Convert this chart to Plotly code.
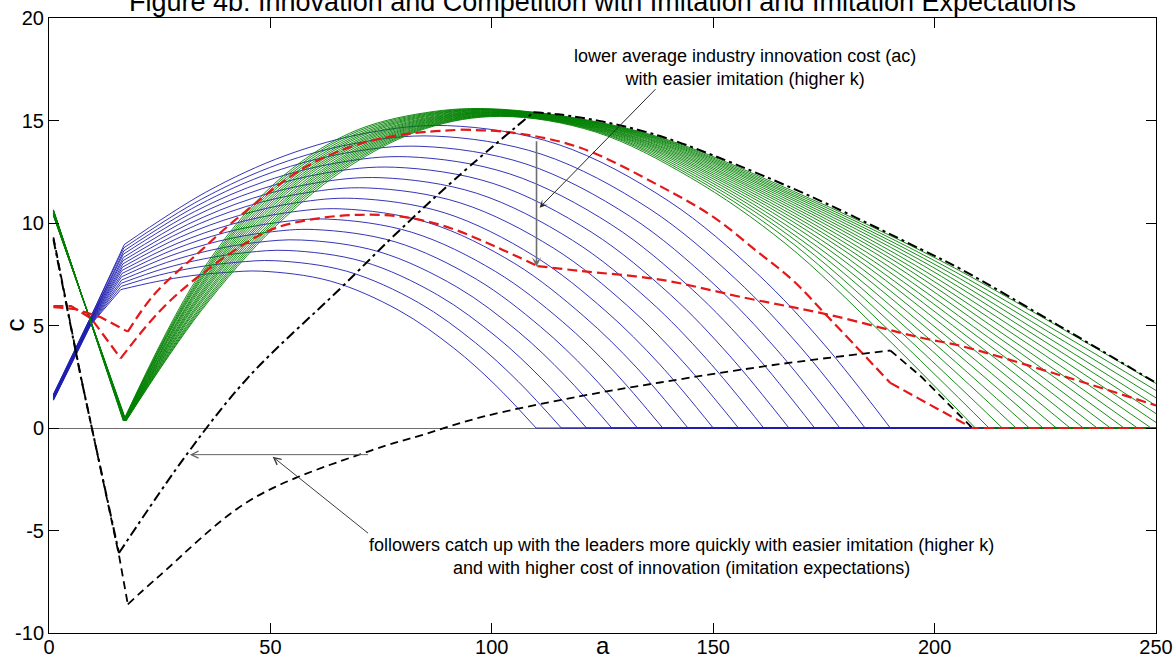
import plotly.graph_objects as go

# ---------------- data ----------------
X_TICKS = [0, 50, 100, 150, 200, 250]
X_TICK_TEXT = ["0", "50", "100", "150", "200", "250"]
Y_TICKS = [-10, -5, 0, 5, 10, 15, 20]
Y_TICK_TEXT = ["-10", "-5", "0", "5", "10", "15", "20"]

# blue family (15 curves): start, crossing, kink, rise, peak, fall, zero, tail
blue_x = [
    [1, 9.5, 16.2, 24.2, 32.1, 40.0, 48, 63.5, 79, 91.4, 100.7, 110, 250],
    [1, 9.5, 16.3, 24.9, 33.6, 42.3, 51, 67.2, 83.4, 96.3, 106.0, 115.7, 250],
    [1, 9.5, 16.3, 25.7, 35.2, 44.6, 54, 70.9, 87.7, 101.2, 111.3, 121.4, 250],
    [1, 9.5, 16.4, 26.5, 36.7, 46.8, 57, 74.5, 92.1, 106.1, 116.6, 127.1, 250],
    [1, 9.5, 16.4, 27.3, 38.2, 49.1, 60, 78.2, 96.5, 111.0, 122.0, 132.9, 250],
    [1, 9.5, 16.5, 28.1, 39.7, 51.4, 63, 81.9, 100.8, 115.9, 127.3, 138.6, 250],
    [1, 9.5, 16.5, 28.9, 41.3, 53.6, 66, 85.6, 105.2, 120.8, 132.6, 144.3, 250],
    [1, 9.5, 16.6, 29.7, 42.8, 55.9, 69, 89.3, 109.5, 125.7, 137.9, 150, 250],
    [1, 9.5, 16.7, 30.5, 44.3, 58.2, 72, 92.9, 113.9, 130.6, 143.1, 155.7, 250],
    [1, 9.5, 16.7, 31.3, 45.9, 60.4, 75, 96.6, 118.2, 135.5, 148.4, 161.4, 250],
    [1, 9.5, 16.8, 32.1, 47.4, 62.7, 78, 100.3, 122.6, 140.4, 153.7, 167.1, 250],
    [1, 9.5, 16.8, 32.9, 48.9, 65.0, 81, 104.0, 127.0, 145.3, 159.1, 172.9, 250],
    [1, 9.5, 16.9, 33.7, 50.4, 67.2, 84, 107.7, 131.3, 150.2, 164.4, 178.6, 250],
    [1, 9.5, 16.9, 34.5, 52.0, 69.5, 87, 111.3, 135.7, 155.1, 169.7, 184.3, 250],
    [1, 9.5, 17.0, 35.3, 53.5, 71.8, 90, 115, 140, 160, 175, 190, 250],
]
blue_y = [
    [1.35, 5.05, 6.75, 7.14, 7.43, 7.59, 7.65, 7.17, 5.74, 3.90, 2.12, 0, 0],
    [1.37, 5.08, 6.91, 7.46, 7.85, 8.08, 8.16, 7.65, 6.12, 4.16, 2.26, 0, 0],
    [1.39, 5.11, 7.06, 7.76, 8.26, 8.56, 8.66, 8.12, 6.50, 4.42, 2.40, 0, 0],
    [1.41, 5.14, 7.22, 8.07, 8.68, 9.05, 9.17, 8.60, 6.88, 4.68, 2.54, 0, 0],
    [1.44, 5.16, 7.38, 8.39, 9.11, 9.54, 9.68, 9.08, 7.26, 4.94, 2.69, 0, 0],
    [1.46, 5.19, 7.54, 8.70, 9.53, 10.02, 10.19, 9.55, 7.64, 5.20, 2.83, 0, 0],
    [1.48, 5.22, 7.69, 9.00, 9.94, 10.50, 10.69, 10.02, 8.02, 5.45, 2.97, 0, 0],
    [1.50, 5.25, 7.85, 9.32, 10.36, 10.99, 11.20, 10.50, 8.40, 5.71, 3.11, 0, 0],
    [1.52, 5.28, 8.01, 9.63, 10.79, 11.48, 11.71, 10.98, 8.78, 5.97, 3.25, 0, 0],
    [1.54, 5.31, 8.16, 9.93, 11.20, 11.96, 12.21, 11.45, 9.16, 6.23, 3.39, 0, 0],
    [1.56, 5.34, 8.32, 10.25, 11.62, 12.45, 12.72, 11.93, 9.54, 6.49, 3.53, 0, 0],
    [1.59, 5.36, 8.48, 10.56, 12.04, 12.93, 13.23, 12.40, 9.92, 6.75, 3.67, 0, 0],
    [1.61, 5.39, 8.64, 10.87, 12.47, 13.42, 13.74, 12.88, 10.31, 7.01, 3.81, 0, 0],
    [1.63, 5.42, 8.79, 11.17, 12.88, 13.90, 14.24, 13.35, 10.68, 7.26, 3.95, 0, 0],
    [1.65, 5.45, 8.95, 11.49, 13.30, 14.39, 14.75, 13.83, 11.06, 7.52, 4.09, 0, 0],
]

# green family (20 curves): start, minimum, rise, peak, fall, zero (or value at a=250), tail
green_x = [
    [1, 17.4, 34.3, 51.2, 68.2, 85.1, 102, 123.4, 144.9, 166.3, 187.8, 209.2, 250],
    [1, 17.4, 34.3, 51.2, 68.1, 85.1, 102, 124.1, 146.1, 168.2, 190.2, 212.3, 250],
    [1, 17.3, 34.3, 51.2, 68.1, 85.1, 102, 124.7, 147.3, 170.0, 192.6, 215.3, 250],
    [1, 17.3, 34.3, 51.2, 68.1, 85.1, 102, 125.3, 148.6, 171.8, 195.1, 218.4, 250],
    [1, 17.3, 34.2, 51.2, 68.1, 85.1, 102, 125.9, 149.8, 173.6, 197.5, 221.4, 250],
    [1, 17.2, 34.2, 51.1, 68.1, 85.0, 102, 126.5, 151.0, 175.5, 200.0, 224.5, 250],
    [1, 17.2, 34.2, 51.1, 68.1, 85.0, 102, 127.1, 152.2, 177.3, 202.4, 227.5, 250],
    [1, 17.2, 34.1, 51.1, 68.1, 85.0, 102, 127.7, 153.4, 179.2, 204.9, 230.6, 250],
    [1, 17.2, 34.1, 51.1, 68.1, 85.0, 102, 128.3, 154.6, 181.0, 207.3, 233.6, 250],
    [1, 17.1, 34.1, 51.1, 68.0, 85.0, 102, 128.9, 155.9, 182.8, 209.8, 236.7, 250],
    [1, 17.1, 34.1, 51.0, 68.0, 85.0, 102, 129.5, 157.1, 184.6, 212.2, 239.7, 250],
    [1, 17.1, 34.0, 51.0, 68.0, 85.0, 102, 130.2, 158.3, 186.5, 214.6, 242.8, 250],
    [1, 17.0, 34.0, 51.0, 68.0, 85.0, 102, 130.8, 159.5, 188.3, 217.0, 245.8, 250],
    [1, 17.0, 34.0, 51.0, 68.0, 85.0, 102, 131.4, 160.8, 190.1, 219.5, 248.9, 250],
    [1, 17.0, 34.0, 51.0, 68.0, 85.0, 102, 132.0, 162.0, 191.9, 221.9, 250],
    [1, 16.9, 33.9, 51.0, 68.0, 85.0, 102, 132.6, 163.2, 193.8, 224.4, 250],
    [1, 16.9, 33.9, 50.9, 68.0, 85.0, 102, 133.2, 164.4, 195.6, 226.8, 250],
    [1, 16.9, 33.9, 50.9, 67.9, 85.0, 102, 133.8, 165.6, 197.5, 229.3, 250],
    [1, 16.8, 33.9, 50.9, 67.9, 85.0, 102, 134.4, 166.8, 199.3, 231.7, 250],
    [1, 16.8, 33.8, 50.9, 67.9, 85.0, 102, 135.0, 168.1, 201.1, 234.2, 250],
]
green_y = [
    [10.35, 0.35, 5.70, 9.85, 12.82, 14.61, 15.20, 14.44, 12.21, 9.00, 4.68, 0, 0],
    [10.37, 0.35, 5.78, 9.96, 12.90, 14.65, 15.22, 14.44, 12.17, 8.96, 4.66, 0, 0],
    [10.38, 0.35, 5.87, 10.07, 12.98, 14.69, 15.24, 14.43, 12.14, 8.92, 4.63, 0, 0],
    [10.40, 0.35, 5.96, 10.17, 13.07, 14.73, 15.26, 14.43, 12.10, 8.87, 4.60, 0, 0],
    [10.41, 0.35, 6.05, 10.28, 13.15, 14.77, 15.27, 14.43, 12.07, 8.83, 4.58, 0, 0],
    [10.43, 0.35, 6.14, 10.39, 13.23, 14.81, 15.29, 14.42, 12.04, 8.79, 4.55, 0, 0],
    [10.44, 0.35, 6.23, 10.50, 13.31, 14.85, 15.31, 14.42, 12.01, 8.75, 4.52, 0, 0],
    [10.46, 0.35, 6.32, 10.61, 13.39, 14.89, 15.33, 14.42, 11.97, 8.71, 4.50, 0, 0],
    [10.48, 0.35, 6.41, 10.71, 13.47, 14.93, 15.35, 14.41, 11.94, 8.66, 4.47, 0, 0],
    [10.49, 0.35, 6.50, 10.82, 13.55, 14.97, 15.37, 14.41, 11.90, 8.62, 4.44, 0, 0],
    [10.51, 0.35, 6.59, 10.93, 13.64, 15.01, 15.38, 14.40, 11.87, 8.58, 4.41, 0, 0],
    [10.52, 0.35, 6.68, 11.04, 13.72, 15.05, 15.40, 14.40, 11.83, 8.54, 4.39, 0, 0],
    [10.54, 0.35, 6.78, 11.15, 13.80, 15.09, 15.42, 14.40, 11.80, 8.50, 4.36, 0, 0],
    [10.56, 0.35, 6.87, 11.26, 13.88, 15.13, 15.44, 14.39, 11.76, 8.45, 4.33, 0, 0],
    [10.57, 0.35, 6.96, 11.37, 13.97, 15.18, 15.46, 14.39, 11.73, 8.41, 4.31, 0.27],
    [10.59, 0.35, 7.05, 11.48, 14.05, 15.22, 15.48, 14.39, 11.69, 8.37, 4.28, 0.70],
    [10.60, 0.35, 7.14, 11.59, 14.13, 15.26, 15.50, 14.38, 11.66, 8.33, 4.25, 1.09],
    [10.62, 0.35, 7.23, 11.70, 14.21, 15.30, 15.51, 14.38, 11.62, 8.28, 4.22, 1.47],
    [10.63, 0.35, 7.33, 11.81, 14.30, 15.34, 15.53, 14.37, 11.59, 8.24, 4.20, 1.83],
    [10.65, 0.35, 7.42, 11.92, 14.38, 15.38, 15.55, 14.37, 11.55, 8.19, 4.17, 2.17],
]

# red dashed curves
red_a_x = [1, 6, 11.7, 17.8, 23.7, 34.3, 41.8, 56.9, 68, 79.4, 93, 105, 120, 138, 150, 160, 168, 176, 190, 208.5, 250]
red_a_y = [5.9, 5.8, 5.4, 4.7, 6.5, 8.65, 10.1, 12.6, 13.7, 14.3, 14.55, 14.4, 13.67, 11.8, 10.3, 8.6, 7.2, 5.4, 2.2, 0, 0]
red_b_x = [1, 5, 9.5, 16.2, 25, 34.3, 49.4, 60, 70.4, 80, 90, 101.3, 110.3, 120, 138, 157, 176, 197, 206, 228, 250]
red_b_y = [5.95, 5.95, 5.35, 3.4, 5.7, 7.48, 9.6, 10.2, 10.4, 10.3, 9.8, 8.8, 7.9, 7.66, 7.24, 6.36, 5.53, 4.4, 4.0, 2.6, 1.1]

# black dashed curves
black_a_x = [1, 7.2, 15.8, 31.4, 45, 66, 78, 92, 109.4, 115, 125, 138, 150, 172, 197, 206, 228, 250]
black_a_y = [9.2, 2.47, -6.1, -1.2, 2.47, 6.85, 9.4, 12.2, 15.4, 15.3, 14.95, 14.24, 13.3, 11.3, 8.71, 7.74, 5.0, 2.2]
black_b_x = [1, 7.2, 15.8, 17.8, 25, 45.6, 72.7, 84, 98, 120, 138, 164.5, 190, 197, 208.5]
black_b_y = [9.3, 2.5, -6.2, -8.6, -7.2, -3.5, -1.1, -0.36, 0.55, 1.55, 2.22, 3.1, 3.78, 2.5, 0]

TITLE = "Figure 4b: Innovation and Competition with Imitation and Imitation Expectations"
NOTE_TOP = "lower average industry innovation cost (ac)<br>with easier imitation (higher k)"
NOTE_BOTTOM = ("followers catch up with the leaders more quickly with easier imitation (higher k)"
               "<br>and with higher cost of innovation (imitation expectations)")

# ---------------- figure ----------------
fig = go.Figure()

BLUE = "rgb(30,30,175)"
GREEN = "rgb(0,128,0)"
RED = "rgb(228,24,24)"


def add_seg(xs, ys, i0, i1, shape, line):
    fig.add_trace(go.Scatter(
        x=xs[i0:i1 + 1], y=ys[i0:i1 + 1], mode="lines",
        line=dict(shape=shape, **line), showlegend=False, hoverinfo="skip"))


def zero_index(ys, start):
    for k in range(start, len(ys)):
        if ys[k] == 0:
            return k
    return len(ys) - 1


# blue family
for xs, ys in zip(blue_x, blue_y):
    ln = dict(color=BLUE, width=0.9)
    add_seg(xs, ys, 0, 2, "linear", ln)
    z = zero_index(ys, 3)
    add_seg(xs, ys, 2, z, "spline", ln)
    if z < len(xs) - 1:
        add_seg(xs, ys, z, len(xs) - 1, "linear", ln)

# green family
for xs, ys in zip(green_x, green_y):
    ln = dict(color=GREEN, width=0.9)
    add_seg(xs, ys, 0, 1, "linear", ln)
    z = zero_index(ys, 2)
    add_seg(xs, ys, 1, z, "spline", ln)
    if z < len(xs) - 1:
        add_seg(xs, ys, z, len(xs) - 1, "linear", ln)

# red dashed
red_line = dict(color=RED, width=2.2, dash="10px,5px")
add_seg(red_a_x, red_a_y, 0, 3, "linear", red_line)
add_seg(red_a_x, red_a_y, 3, 10, "spline", red_line)
add_seg(red_a_x, red_a_y, 10, 18, "spline", red_line)
add_seg(red_a_x, red_a_y, 18, 20, "linear", red_line)
add_seg(red_b_x, red_b_y, 0, 3, "linear", red_line)
add_seg(red_b_x, red_b_y, 3, 12, "spline", red_line)
add_seg(red_b_x, red_b_y, 12, 20, "spline", red_line)

# black dashed
ba_line = dict(color="black", width=2, dash="10px,4px,3px,4px")
add_seg(black_a_x, black_a_y, 0, 2, "linear", ba_line)
add_seg(black_a_x, black_a_y, 2, 8, "spline", ba_line)
add_seg(black_a_x, black_a_y, 8, 17, "spline", ba_line)
bb_line = dict(color="black", width=1.8, dash="8px,5px")
add_seg(black_b_x, black_b_y, 0, 3, "linear", bb_line)
add_seg(black_b_x, black_b_y, 3, 12, "spline", bb_line)
add_seg(black_b_x, black_b_y, 12, 14, "linear", bb_line)

FAMILY = "Liberation Sans, Arial, sans-serif"
TEXT_FONT = dict(family=FAMILY, size=18, color="black")
annotations = [
    dict(text=TITLE, x=0.5, y=1.0, xref="paper", yref="paper", yanchor="middle", yshift=16,
         showarrow=False, font=dict(family=FAMILY, size=27, color="black")),
    dict(text="a", x=0.5, y=0, xref="paper", yref="paper", yanchor="middle", yshift=-12,
         showarrow=False, font=dict(family=FAMILY, size=24, color="black")),
    dict(text="c", x=0, y=0.5, xref="paper", yref="paper", xanchor="center", xshift=-35,
         textangle=-90, showarrow=False, font=dict(family=FAMILY, size=26, color="black")),
    dict(text=NOTE_TOP, x=157.1, y=17.6, xref="x", yref="y", showarrow=False, font=TEXT_FONT),
    dict(text=NOTE_BOTTOM, x=142.9, y=-6.28, xref="x", yref="y", showarrow=False, font=TEXT_FONT),
    # arrows
    dict(text="", x=110.8, y=10.75, ax=137.3, ay=16.6, xref="x", yref="y", axref="x", ayref="y",
         showarrow=True, arrowhead=3, arrowsize=1.3, arrowwidth=1, arrowcolor="rgb(40,40,40)", standoff=0),
    dict(text="", x=110.1, y=7.87, ax=110.1, ay=14.06, xref="x", yref="y", axref="x", ayref="y",
         showarrow=True, arrowhead=3, arrowsize=1.0, arrowwidth=1.6, arrowcolor="rgb(110,110,110)", standoff=0),
    dict(text="", x=31.8, y=-1.3, ax=72.4, ay=-1.3, xref="x", yref="y", axref="x", ayref="y",
         showarrow=True, arrowhead=5, arrowsize=1.4, arrowwidth=1, arrowcolor="rgb(100,100,100)", standoff=0),
    dict(text="", x=50.5, y=-1.4, ax=72.4, ay=-5.19, xref="x", yref="y", axref="x", ayref="y",
         showarrow=True, arrowhead=5, arrowsize=1.4, arrowwidth=1, arrowcolor="rgb(60,60,60)", standoff=0),
]

TICK_FONT = dict(family=FAMILY, size=20, color="black")
fig.update_layout(
    width=1173, height=660,
    margin=dict(l=49, r=17, t=18, b=27),
    paper_bgcolor="white", plot_bgcolor="white",
    showlegend=False,
    annotations=annotations,
    xaxis=dict(range=[0, 250], tickvals=X_TICKS, ticktext=X_TICK_TEXT, ticks="inside", ticklen=10,
               tickcolor="black", showline=True, linecolor="black", linewidth=1, mirror="ticks",
               showgrid=False, zeroline=False, tickfont=TICK_FONT, automargin=False,
               ticklabeloverflow="allow", ticklabelstandoff=-4),
    yaxis=dict(range=[-10, 20], tickvals=Y_TICKS, ticktext=Y_TICK_TEXT, ticks="inside", ticklen=10,
               tickcolor="black", showline=True, linecolor="black", linewidth=1, mirror="ticks",
               showgrid=False, zeroline=True, zerolinecolor="rgb(110,110,110)", zerolinewidth=1,
               tickfont=TICK_FONT, automargin=False, ticklabeloverflow="allow"),
)

fig.write_html("out.html")
